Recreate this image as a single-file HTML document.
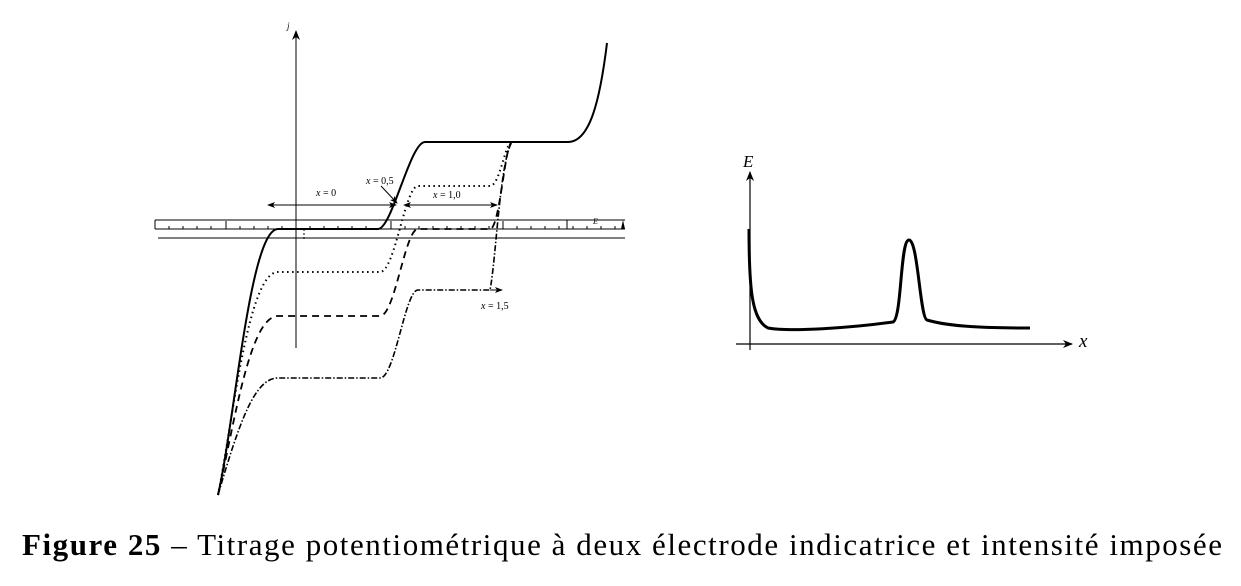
<!DOCTYPE html>
<html><head><meta charset="utf-8"><style>
html,body{margin:0;padding:0;background:#fff;width:1241px;height:586px;overflow:hidden}
svg{position:absolute;left:0;top:0}
</style></head><body>
<svg width="1241" height="586" viewBox="0 0 1241 586" xmlns="http://www.w3.org/2000/svg">
<defs>
<marker id="ah" markerWidth="10" markerHeight="8" refX="9" refY="4" orient="auto" markerUnits="userSpaceOnUse"><path d="M0,0 L10,4 L0,8 L3,4 Z" fill="#000"/></marker>
<marker id="ahs" markerWidth="8" markerHeight="6" refX="7" refY="3" orient="auto-start-reverse" markerUnits="userSpaceOnUse"><path d="M0,0 L8,3 L0,6 L2,3 Z" fill="#000"/></marker>
</defs>
<g stroke="#000" stroke-width="1" fill="none">
<line x1="155" y1="220" x2="625" y2="220"/>
<line x1="158" y1="238" x2="625" y2="238"/>
<line x1="155" y1="229" x2="625" y2="229"/>
<line x1="155" y1="220" x2="155" y2="229"/>
<path d="M169,229v-3M183,229v-3M197,229v-3M211,229v-3M226,229v-8M240,229v-3M254,229v-3M268,229v-3M282,229v-3M310,229v-3M324,229v-3M338,229v-3M352,229v-3M366,229v-3M391,229v-8M405,229v-3M419,229v-3M433,229v-3M447,229v-3M461,229v-3M475,229v-3M489,229v-3M503,229v-8M517,229v-3M531,229v-3M545,229v-3M559,229v-3M567,229v-9M573,229v-3M587,229v-3M601,229v-3M615,229v-3"/>
<line x1="304" y1="229" x2="304" y2="239" stroke-dasharray="2,2"/>
</g>
<path d="M621,229 L623,220 L625,229Z" fill="#000"/>
<text x="593" y="224" font-family="Liberation Serif,serif" font-style="italic" font-size="8">E</text>
<line x1="296" y1="348" x2="296" y2="31" stroke="#000" stroke-width="1" marker-end="url(#ah)"/>
<text x="287" y="29" font-family="Liberation Serif,serif" font-style="italic" font-size="9">j</text>
<g fill="none" stroke="#000">
<path stroke-width="2" d="M218,495 C235,420 250,229 278,229 L378,229 C392,229 410,142 425,142 L568,142 C590,142 600,100 607,43"/>
<path stroke-width="2" stroke-dasharray="1.5,3.5" d="M218,495 C233,420 248,272 278,272 L380,272 C395,272 405,186 418,186 L490,186 C500,186 505,142 512,142"/>
<path stroke-width="1.8" stroke-dasharray="7,5" d="M218,495 C235,420 250,316 278,316 L380,316 C395,316 405,229 418,229 L490,229 C500,229 505,142 512,142"/>
<path stroke-width="1.6" stroke-dasharray="6,2,1.5,2" d="M218,495 C240,420 255,378 278,378 L380,378 C395,378 405,290 418,290 L490,290 C496,260 500,160 512,142"/>
</g>
<g stroke="#000" stroke-width="1" fill="none">
<line x1="268" y1="205" x2="396" y2="205" marker-start="url(#ahs)" marker-end="url(#ahs)"/>
<line x1="404" y1="205" x2="497" y2="205" marker-start="url(#ahs)" marker-end="url(#ahs)"/>
<line x1="381" y1="186" x2="397" y2="203" marker-end="url(#ahs)"/>
<line x1="490" y1="290" x2="502" y2="290" marker-end="url(#ahs)"/>
</g>
<g font-family="Liberation Serif,serif" font-size="10">
<text x="316" y="196"><tspan font-style="italic">x</tspan> = 0</text>
<text x="366" y="184"><tspan font-style="italic">x</tspan> = 0,5</text>
<text x="433" y="198"><tspan font-style="italic">x</tspan> = 1,0</text>
<text x="481" y="309"><tspan font-style="italic">x</tspan> = 1,5</text>
</g>
<line x1="750" y1="350" x2="750" y2="172" stroke="#000" stroke-width="1.2" marker-end="url(#ah)"/>
<line x1="736" y1="344" x2="1072" y2="344" stroke="#000" stroke-width="1.2" marker-end="url(#ah)"/>
<text x="743" y="167" font-family="Liberation Serif,serif" font-style="italic" font-size="17">E</text>
<text x="1079" y="347" font-family="Liberation Serif,serif" font-style="italic" font-size="19">x</text>
<path fill="none" stroke="#000" stroke-width="3" d="M749,229 C749,290 752,320 768,328 C790,332 850,328 893,322 C902,318 900,240 909,240 C918,240 920,318 927,320 C950,327 990,328 1030,328"/>
<text x="22" y="555" textLength="1200" lengthAdjust="spacing" font-family="Liberation Serif,serif" font-size="31"><tspan font-weight="bold">Figure 25</tspan> – Titrage potentiométrique à deux électrode indicatrice et intensité imposée</text>
</svg>
</body></html>
